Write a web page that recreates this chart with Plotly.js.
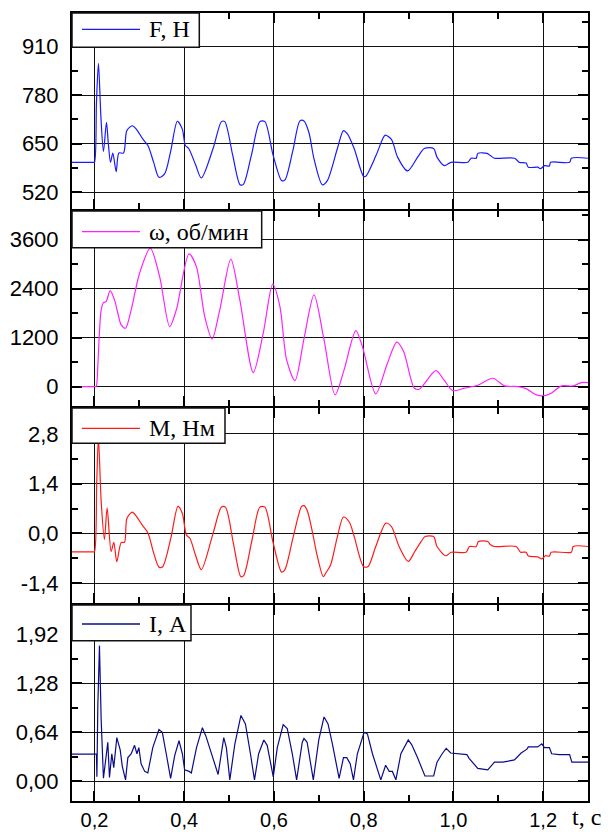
<!DOCTYPE html>
<html>
<head>
<meta charset="utf-8">
<script src="https://cdn.plot.ly/plotly-3.0.1.min.js"></script>
<style>html,body{margin:0;padding:0;background:#fff;}#chart{width:608px;height:832px;}</style>
</head>
<body>
<div id="chart"></div>
<script>
// ---- data ----
const F_t = [0.15,0.197,0.2,0.2045,0.2089,0.2145,0.2201,0.2268,0.2310,0.2358,0.241,0.2485,0.2545,0.2648,0.2722,0.2843,0.2932,0.308,0.3192,0.332,0.3438,0.3564,0.370,0.3848,0.3959,0.4026,0.410,0.425,0.4382,0.4644,0.4831,0.4905,0.508,0.5246,0.532,0.550,0.5687,0.5799,0.598,0.6172,0.6246,0.642,0.6581,0.667,0.678,0.6894,0.708,0.719,0.7415,0.7549,0.7638,0.7788,0.7996,0.8047,0.8274,0.8421,0.848,0.8622,0.8756,0.8979,0.9203,0.9352,0.956,0.9635,0.9799,0.9948,1.032,1.0395,1.051,1.0543,1.075,1.0826,1.0915,1.1363,1.147,1.162,1.167,1.188,1.194,1.203,1.214,1.2165,1.259,1.263,1.30];
const F_val = [600,600,600,760,865,720,629,707,650,600,625,575,625,625,685,698,689,662,645,600,560,569,630,710,689,645,637,595,558,637,709,709,620,540,541,620,709,709,620,551,553,630,711,711,680,609,540,551,637,685,676,637,563,563,618,662,673,661,614,577,614,637,637,614,591,600,600,611,611,624,624,618,611,611,600,598,587,587,583,591,590,600,600,611,611];

const W_t = [0.15,0.200,0.2037,0.2075,0.211,0.215,0.2201,0.226,0.235,0.2447,0.2522,0.2596,0.2693,0.2819,0.3006,0.3245,0.3453,0.3676,0.3825,0.4107,0.4272,0.4458,0.4622,0.4793,0.504,0.524,0.554,0.5762,0.5973,0.6134,0.6283,0.647,0.667,0.6894,0.7117,0.7363,0.7564,0.7825,0.7972,0.827,0.853,0.874,0.889,0.9129,0.924,0.961,0.979,0.9985,1.0245,1.0543,1.0878,1.114,1.1438,1.162,1.1848,1.1997,1.218,1.241,1.267,1.285,1.30];
const W_val = [0,0,0,500,1300,1878,2057,2081,2351,2123,1797,1511,1430,1878,2777,3389,2694,1469,1878,3250,2939,1714,1168,1878,3120,2123,343,1308,2508,1959,654,147,1170,2246,1144,-203,409,1371,980,-179,573,1087,860,-39,-64,392,163,-98,-39,33,204,17,0,-49,-203,-228,-163,17,17,98,98];

const M_t = [0.15,0.197,0.2,0.2052,0.2089,0.2150,0.2223,0.2283,0.2372,0.2432,0.2499,0.2596,0.267,0.2723,0.2843,0.2947,0.3066,0.319,0.332,0.3438,0.352,0.370,0.3862,0.396,0.405,0.4125,0.425,0.4382,0.4644,0.4831,0.492,0.510,0.5265,0.533,0.551,0.5687,0.5799,0.598,0.6172,0.6246,0.643,0.6618,0.667,0.6744,0.6856,0.6968,0.71,0.715,0.726,0.7415,0.755,0.768,0.779,0.7996,0.81,0.827,0.8496,0.862,0.879,0.8994,0.913,0.928,0.937,0.956,0.9635,0.983,0.995,1.028,1.036,1.051,1.0557,1.0766,1.0826,1.0915,1.14,1.1497,1.162,1.167,1.188,1.197,1.205,1.214,1.218,1.263,1.267,1.30];
const M_val = [-0.52,-0.52,-0.52,1.48,2.7,0.9,-0.17,0.72,-0.51,-0.25,-0.80,-0.26,-0.25,0.42,0.60,0.46,0.23,0.02,-0.55,-0.95,-0.94,-0.15,0.76,0.56,-0.05,-0.13,-0.6,-1.02,0.0,0.74,0.74,-0.3,-1.22,-1.18,-0.2,0.74,0.74,-0.25,-1.09,-1.02,-0.1,0.76,0.78,0.64,0.05,-0.65,-1.22,-1.13,-0.90,-0.09,0.46,0.32,-0.09,-0.93,-0.93,-0.37,0.29,0.19,-0.37,-0.79,-0.53,-0.23,-0.09,-0.09,-0.37,-0.63,-0.53,-0.53,-0.37,-0.37,-0.23,-0.23,-0.32,-0.37,-0.37,-0.53,-0.53,-0.64,-0.66,-0.72,-0.63,-0.64,-0.53,-0.53,-0.37,-0.37];

const I_t = [0.15,0.2045,0.2055,0.2075,0.2112,0.2150,0.2201,0.2298,0.2335,0.2387,0.243,0.2499,0.2574,0.262,0.2693,0.2745,0.282,0.2894,0.2947,0.299,0.304,0.312,0.319,0.330,0.3438,0.3513,0.360,0.3698,0.379,0.3885,0.396,0.401,0.411,0.416,0.4275,0.4406,0.449,0.4644,0.4756,0.4882,0.494,0.5017,0.513,0.5265,0.5365,0.5477,0.5567,0.566,0.5775,0.585,0.5986,0.6075,0.6207,0.6297,0.641,0.6506,0.6632,0.667,0.674,0.6878,0.70,0.7117,0.7206,0.7303,0.7453,0.755,0.7624,0.77,0.7773,0.786,0.801,0.8084,0.8196,0.8382,0.849,0.857,0.864,0.8718,0.883,0.8994,0.907,0.92,0.9366,0.956,0.9635,0.975,0.984,0.994,1.03,1.035,1.0543,1.0766,1.0915,1.11,1.136,1.151,1.164,1.167,1.188,1.197,1.203,1.214,1.219,1.236,1.259,1.264,1.30];
const I_val = [0.354,0.354,0.06,0.97,1.77,0.8,0.04,0.51,0.05,0.36,0.18,0.57,0.41,0.20,0.02,0.31,0.36,0.47,0.36,0.44,0.23,0.13,0.11,0.44,0.675,0.64,0.36,0.04,0.34,0.53,0.36,0.15,0.13,0.11,0.44,0.70,0.58,0.28,0.09,0.57,0.44,0.02,0.49,0.86,0.75,0.36,0.02,0.36,0.54,0.47,0.06,0.44,0.74,0.69,0.36,0.02,0.51,0.56,0.51,0.02,0.54,0.84,0.75,0.49,0.04,0.31,0.31,0.23,0.02,0.36,0.64,0.62,0.36,0.02,0.21,0.13,0.13,0.02,0.36,0.54,0.48,0.31,0.07,0.07,0.25,0.36,0.43,0.37,0.35,0.30,0.17,0.15,0.25,0.25,0.28,0.37,0.42,0.45,0.45,0.49,0.44,0.44,0.36,0.35,0.35,0.25,0.25];

// ---- tick labels ----
const xTickVals = [0.2,0.4,0.6,0.8,1.0,1.2];
const xTickText = ['0,2','0,4','0,6','0,8','1,0','1,2'];
const xMinorVals = [0.3,0.5,0.7,0.9,1.1,1.3];

const F_tickVals = [520,650,780,910];
const F_tickText = ['520','650','780','910'];
const F_minor = [585,715,845,975];

const W_tickVals = [0,1200,2400,3600];
const W_tickText = ['0','1200','2400','3600'];
const W_minor = [600,1800,3000,4200];

const M_tickVals = [-1.4,0,1.4,2.8];
const M_tickText = ['-1,4','0,0','1,4','2,8'];
const M_minor = [-0.7,0.7,2.1,3.5];

const I_tickVals = [0,0.64,1.28,1.92];
const I_tickText = ['0,00','0,64','1,28','1,92'];
const I_minor = [0.32,0.96,1.6,2.24];

const names = ['F, Н','ω, об/мин','M, Нм','I, А'];
const colors = ['#1a1aff','#ff22ff','#ff1a1a','#0b0b8a'];

// ---- styles ----
const serif = 'Liberation Serif, Times New Roman, serif';
function tf(sz){ return {family:'Liberation Sans, Arial, sans-serif', size:sz, color:'#000'}; }

function xAx(showLabels){
  return {
    range:[0.15,1.3], tickmode:'array', tickvals:xTickVals, ticktext:xTickText,
    showticklabels:showLabels, ticks:'inside', ticklen:10, tickwidth:2, tickcolor:'#000',
    showline:true, linewidth:2, linecolor:'#000', mirror:'ticks',
    showgrid:true, gridcolor:'#111', gridwidth:1, zeroline:false,
    tickfont:tf(20), ticklabelstandoff:0,
    minor:{tickmode:'array', tickvals:xMinorVals, ticks:'inside', ticklen:6, tickwidth:2, tickcolor:'#000', showgrid:false}
  };
}
function yAx(dom, rng, tv, tt, mv){
  return {
    domain:dom, range:rng, tickmode:'array', tickvals:tv, ticktext:tt,
    ticks:'inside', ticklen:10, tickwidth:2, tickcolor:'#000',
    showline:true, linewidth:2, linecolor:'#000', mirror:'ticks',
    showgrid:true, gridcolor:'#111', gridwidth:1, zeroline:false,
    tickfont:tf(22), ticklabelstandoff:7,
    minor:{tickmode:'array', tickvals:mv, ticks:'inside', ticklen:6, tickwidth:2, tickcolor:'#000', showgrid:false}
  };
}

const series = [[F_t,F_val],[W_t,W_val],[M_t,M_val],[I_t,I_val]];
const shapesLine = ['spline','spline','spline','linear'];
const smooth = [0.8,0.8,0.8,1];
const traces = series.map((s,i)=>({
  x:s[0], y:s[1], type:'scatter', mode:'lines', name:names[i],
  xaxis: i===0?'x':'x'+(i+1), yaxis: i===0?'y':'y'+(i+1),
  line:{color:colors[i], width:1.2, shape:shapesLine[i], smoothing:smooth[i]}
}));

const doms = [[0.75127,1],[0.50127,0.74873],[0.25127,0.49873],[0,0.24873]];

// legend boxes (paper coordinates)
const legBox = [
  {x1:0.2467, y0:0.9565, yl:0.9793},
  {x1:0.3676, y0:0.7022, yl:0.7225},
  {x1:0.2965, y0:0.4539, yl:0.4730},
  {x1:0.2306, y0:0.2034, yl:0.2246}
];
const shapes = [];
const annotations = [];
legBox.forEach((b,i)=>{
  shapes.push({type:'rect', xref:'paper', yref:'paper', x0:0, x1:b.x1, y0:b.y0, y1:doms[i][1],
    fillcolor:'#fff', line:{color:'#111', width:1.5}, layer:'above'});
  shapes.push({type:'line', xref:'paper', yref:'paper', x0:0.0194, x1:0.1318, y0:b.yl, y1:b.yl,
    line:{color:colors[i], width:1.3}, layer:'above'});
  annotations.push({xref:'paper', yref:'paper', x:0.1453, y:b.yl, xanchor:'left', yanchor:'middle',
    text:names[i], showarrow:false, font:{family:serif, size:24, color:'#000'}});
});
annotations.push({xref:'paper', yref:'paper', x:0.998, y:-0.0203, xanchor:'center', yanchor:'middle',
  text:'t, с', showarrow:false, font:{family:serif, size:24, color:'#000'}});

const layout = {
  width:608, height:832,
  margin:{l:72, r:20, t:13, b:31},
  paper_bgcolor:'#fff', plot_bgcolor:'#fff',
  showlegend:false,
  xaxis: Object.assign(xAx(false), {anchor:'y'}),
  xaxis2: Object.assign(xAx(false), {anchor:'y2', matches:'x'}),
  xaxis3: Object.assign(xAx(false), {anchor:'y3', matches:'x'}),
  xaxis4: Object.assign(xAx(true), {anchor:'y4', matches:'x'}),
  yaxis: Object.assign(yAx(doms[0],[475,1000],F_tickVals,F_tickText,F_minor), {anchor:'x'}),
  yaxis2: Object.assign(yAx(doms[1],[-475,4300],W_tickVals,W_tickText,W_minor), {anchor:'x2'}),
  yaxis3: Object.assign(yAx(doms[2],[-1.96,3.53],M_tickVals,M_tickText,M_minor), {anchor:'x3'}),
  yaxis4: Object.assign(yAx(doms[3],[-0.256,2.30],I_tickVals,I_tickText,I_minor), {anchor:'x4'}),
  shapes: shapes,
  annotations: annotations
};

Plotly.newPlot('chart', traces, layout, {staticPlot:true, displayModeBar:false});
</script>
</body>
</html>
